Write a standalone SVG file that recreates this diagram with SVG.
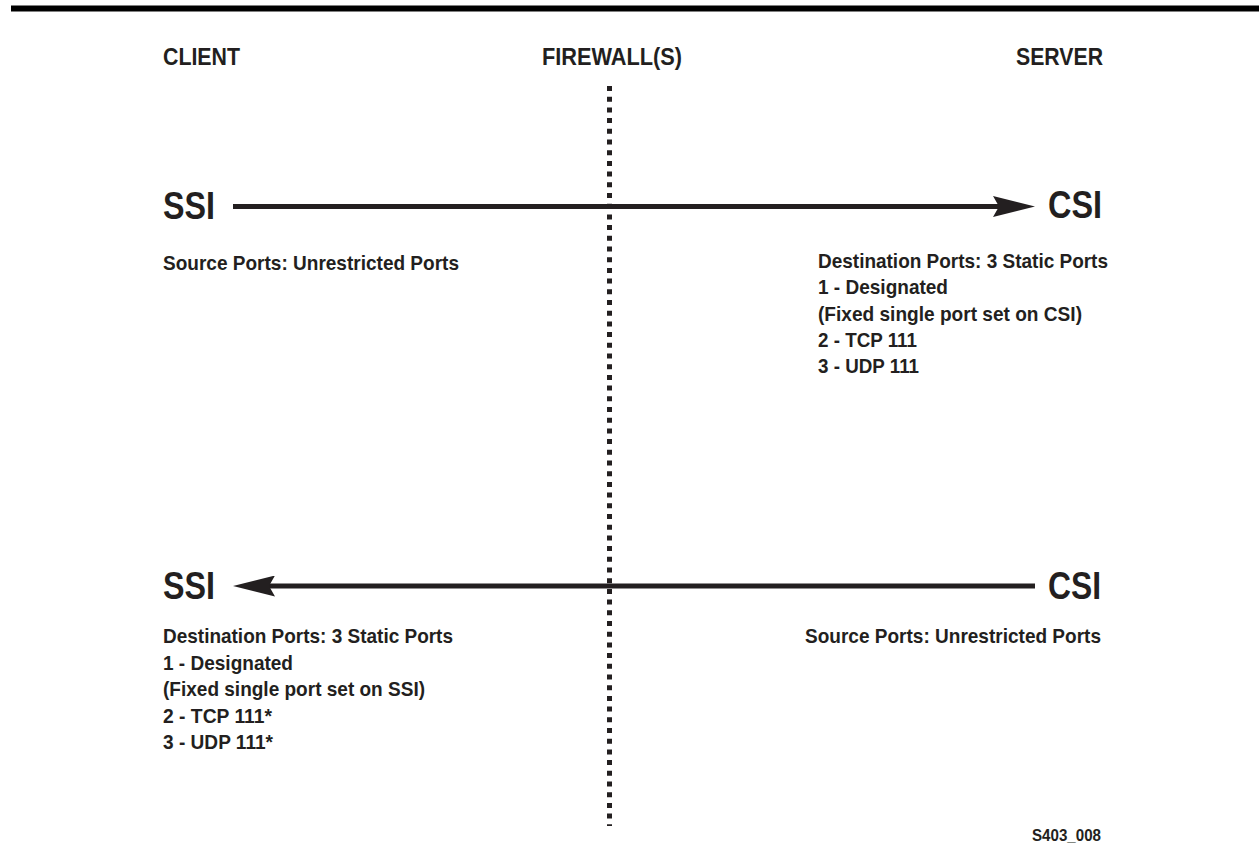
<svg xmlns="http://www.w3.org/2000/svg" width="1259" height="867" viewBox="0 0 1259 867">
  <style>
    text { font-family: "Liberation Sans Narrow", "Liberation Sans", Arial, sans-serif; font-weight: bold; fill: #231f20; }
    .hdr { font-size: 24px; }
    .big { font-size: 39px; }
    .body { font-size: 20.5px; }
    .tag { font-size: 17px; }
    .conn { stroke: #231f20; stroke-width: 5; fill: none; }
    .fw { stroke: #231f20; stroke-width: 5; stroke-dasharray: 5 5.7; fill: none; }
  </style>
  <defs>
    <marker id="arrow" markerUnits="userSpaceOnUse" markerWidth="42" markerHeight="21" refX="6" refY="10.5" orient="auto" viewBox="0 0 42 21">
      <path d="M0,0 L42,10.5 L0,21 L6,10.5 Z" fill="#231f20"/>
    </marker>
  </defs>
  <rect width="1259" height="867" fill="#ffffff"/>
  <rect id="top-bar" x="11" y="5.5" width="1248" height="6" fill="#000000"/>

  <g id="headers">
    <text class="hdr" x="163" y="65" textLength="77" lengthAdjust="spacingAndGlyphs">CLIENT</text>
    <text class="hdr" x="542" y="65" textLength="140" lengthAdjust="spacingAndGlyphs">FIREWALL(S)</text>
    <text class="hdr" x="1016" y="65" textLength="87" lengthAdjust="spacingAndGlyphs">SERVER</text>
  </g>

  <g id="firewall">
    <line class="fw" x1="609.5" y1="86" x2="609.5" y2="826"/>
  </g>

  <g id="connectors">
    <line class="conn" x1="233" y1="206.5" x2="999" y2="206.5" marker-end="url(#arrow)"/>
    <line class="conn" x1="1035" y1="586" x2="269" y2="586" marker-end="url(#arrow)"/>
  </g>

  <g id="ssi-top">
    <text class="big" x="163" y="219" textLength="52" lengthAdjust="spacingAndGlyphs">SSI</text>
    <text class="body" x="163" y="270" textLength="296" lengthAdjust="spacingAndGlyphs">Source Ports: Unrestricted Ports</text>
  </g>

  <g id="csi-top">
    <text class="big" x="1048" y="218" textLength="54" lengthAdjust="spacingAndGlyphs">CSI</text>
    <text class="body" x="818" y="268" textLength="290" lengthAdjust="spacingAndGlyphs">Destination Ports: 3 Static Ports</text>
    <text class="body" x="818" y="294" textLength="130" lengthAdjust="spacingAndGlyphs">1 - Designated</text>
    <text class="body" x="818" y="321" textLength="264" lengthAdjust="spacingAndGlyphs">(Fixed single port set on CSI)</text>
    <text class="body" x="818" y="347" textLength="99" lengthAdjust="spacingAndGlyphs">2 - TCP 111</text>
    <text class="body" x="818" y="373" textLength="101" lengthAdjust="spacingAndGlyphs">3 - UDP 111</text>
  </g>

  <g id="ssi-bottom">
    <text class="big" x="163" y="599" textLength="52" lengthAdjust="spacingAndGlyphs">SSI</text>
    <text class="body" x="163" y="643" textLength="290" lengthAdjust="spacingAndGlyphs">Destination Ports: 3 Static Ports</text>
    <text class="body" x="163" y="669.5" textLength="130" lengthAdjust="spacingAndGlyphs">1 - Designated</text>
    <text class="body" x="163" y="696" textLength="262" lengthAdjust="spacingAndGlyphs">(Fixed single port set on SSI)</text>
    <text class="body" x="163" y="722.5" textLength="109" lengthAdjust="spacingAndGlyphs">2 - TCP 111*</text>
    <text class="body" x="163" y="749" textLength="110" lengthAdjust="spacingAndGlyphs">3 - UDP 111*</text>
  </g>

  <g id="csi-bottom">
    <text class="big" x="1048" y="599" textLength="53" lengthAdjust="spacingAndGlyphs">CSI</text>
    <text class="body" x="805" y="643" textLength="296" lengthAdjust="spacingAndGlyphs">Source Ports: Unrestricted Ports</text>
  </g>

  <g id="figure-id">
    <text class="tag" x="1032" y="841" textLength="69" lengthAdjust="spacingAndGlyphs">S403_008</text>
  </g>
</svg>
